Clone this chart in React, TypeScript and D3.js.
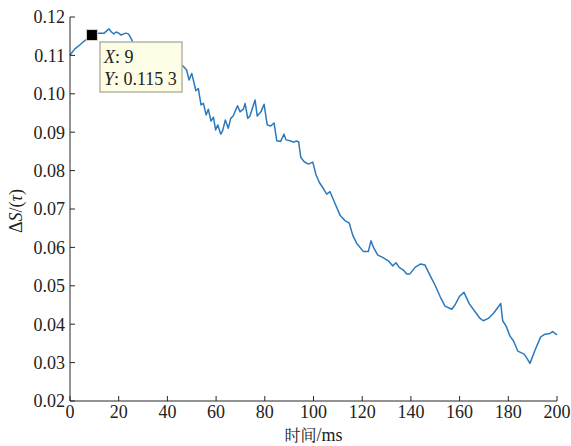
import React from "react";
import * as d3 from "d3";

const times = [0,2,4,6,8,9,12,14,16,17,18,19,20,21,22,23,24,25,26,28,30,32,34,36,38,40,42,44,46.5,47.9,48.9,50,51.7,52.7,53.8,54.8,55.9,56.8,57.9,58.9,59.8,60.7,61.9,62.7,63.8,65,66,67,68.8,69.8,71.2,71.9,73,73.9,76,76.9,78.4,79.7,81,82.4,83.8,84.9,86.5,87.9,88.7,90.3,92,92.8,93.9,94.8,96.2,97.9,99.7,101,102.4,104,105.4,106.8,108.8,110.9,112.9,114.7,116.1,117.7,120.5,122.5,123.6,124.8,126.4,128.4,130.7,132.5,133.9,135.2,136.9,138.3,139.6,141.7,144,145.8,147.8,149.9,152,154,156.8,158.1,159.9,161.8,164,166.3,168.4,169.7,171.8,174.1,176.9,177.7,179.1,180.7,182.1,183.9,186.5,187.3,188.9,191,193.3,195.1,197.1,198.2,200];
const values = [0.1101,0.1117,0.1127,0.1138,0.1147,0.1153,0.1158,0.1158,0.1169,0.1161,0.1156,0.1161,0.1158,0.1153,0.1156,0.1158,0.1156,0.1145,0.1132,0.1125,0.1118,0.1112,0.1108,0.1100,0.1095,0.1092,0.1088,0.1080,0.1072,0.1062,0.1036,0.1053,0.1008,0.1014,0.0971,0.0975,0.0945,0.0960,0.0929,0.0939,0.0906,0.0919,0.0895,0.0904,0.0932,0.0910,0.0936,0.0942,0.0969,0.0953,0.0960,0.0975,0.0936,0.0942,0.0984,0.0942,0.0953,0.0973,0.0919,0.0916,0.0924,0.0878,0.0876,0.0895,0.0880,0.0878,0.0874,0.0877,0.0875,0.0834,0.0823,0.0817,0.0822,0.0790,0.0769,0.0754,0.0739,0.0745,0.0715,0.0684,0.0670,0.0663,0.0632,0.0611,0.0589,0.0589,0.0617,0.0598,0.0580,0.0574,0.0565,0.0552,0.0560,0.0548,0.0541,0.0531,0.0531,0.0548,0.0557,0.0554,0.0528,0.0502,0.0472,0.0447,0.0439,0.0450,0.0472,0.0483,0.0453,0.0433,0.0415,0.0409,0.0415,0.0430,0.0454,0.0409,0.0395,0.0369,0.0357,0.0330,0.0322,0.0315,0.0298,0.0333,0.0367,0.0374,0.0376,0.0381,0.0372];
const xTicks = [0,20,40,60,80,100,120,140,160,180,200];
const yTicks = [0.02,0.03,0.04,0.05,0.06,0.07,0.08,0.09,0.10,0.11,0.12];
const markerX = 9;
const markerY = 0.1153;

export default function App() {
  const W = 571, H = 446;
  const left = 70, right = 557, top = 17, bottom = 401;
  const x = d3.scaleLinear().domain([0, 200]).range([left, right]);
  const y = d3.scaleLinear().domain([0.02, 0.12]).range([bottom, top]);
  const line = d3.line<number>().x((_, i) => x(times[i])).y((d) => y(d));
  const serif = "Liberation Serif, Times New Roman, serif";
  const axisColor = "#262626";
  const mx = x(markerX), my = y(markerY);
  const ts = { fontFamily: serif } as React.CSSProperties;
  return (
    <svg width={W} height={H} style={{ position: "absolute", left: 0, top: 0, fontFamily: serif }}>
      <rect width={W} height={H} fill="#fff" />
      <path d={line(values) || ""} fill="none" stroke="#2b79bd" strokeWidth={1.5} strokeLinejoin="round" />
      <line x1={left} x2={left} y1={top} y2={bottom} stroke={axisColor} strokeWidth={1} />
      <line x1={left} x2={right} y1={bottom} y2={bottom} stroke={axisColor} strokeWidth={1} />
      {yTicks.map((t) => (
        <g key={"y" + t}>
          <line x1={left} x2={left + 5} y1={y(t)} y2={y(t)} stroke={axisColor} />
          <text x={left - 5} y={y(t)} dy="0.35em" textAnchor="end" fontSize={18} fill="#222" style={ts}>
            {t.toFixed(2)}
          </text>
        </g>
      ))}
      {xTicks.map((t) => (
        <g key={"x" + t}>
          <line x1={x(t)} x2={x(t)} y1={bottom} y2={bottom - 5} stroke={axisColor} />
          <text x={x(t)} y={418} textAnchor="middle" fontSize={18} fill="#222" style={ts}>
            {t}
          </text>
        </g>
      ))}
      <text transform={`translate(22,${(top + bottom) / 2 + 2}) rotate(-90)`} textAnchor="middle" fontSize={18} fill="#222" style={ts}>
        Δ<tspan fontStyle="italic">S</tspan>/(<tspan fontStyle="italic">τ</tspan>)
      </text>
      <text x={(left + right) / 2} y={441} textAnchor="middle" fontSize={18} fill="#222" style={ts}>
        <tspan style={{ fontFamily: "Noto Serif CJK SC, Noto Sans CJK SC, serif" }} fontSize={16}>时间</tspan>/ms
      </text>
      <rect x={100} y={42} width={82} height={50} fill="#fdfde6" stroke="#b4b4a4" strokeWidth={1.5} />
      <text x={104} y={63} fontSize={18} fill="#222" style={ts}>
        <tspan fontStyle="italic">X</tspan>: {markerX}
      </text>
      <text x={104} y={85} fontSize={18} fill="#222" style={ts}>
        <tspan fontStyle="italic">Y</tspan>: 0.115 3
      </text>
      <rect x={mx - 5.5} y={my - 5.5} width={11} height={11} fill="#000" stroke="#d8d8c8" strokeWidth={1} />
    </svg>
  );
}
